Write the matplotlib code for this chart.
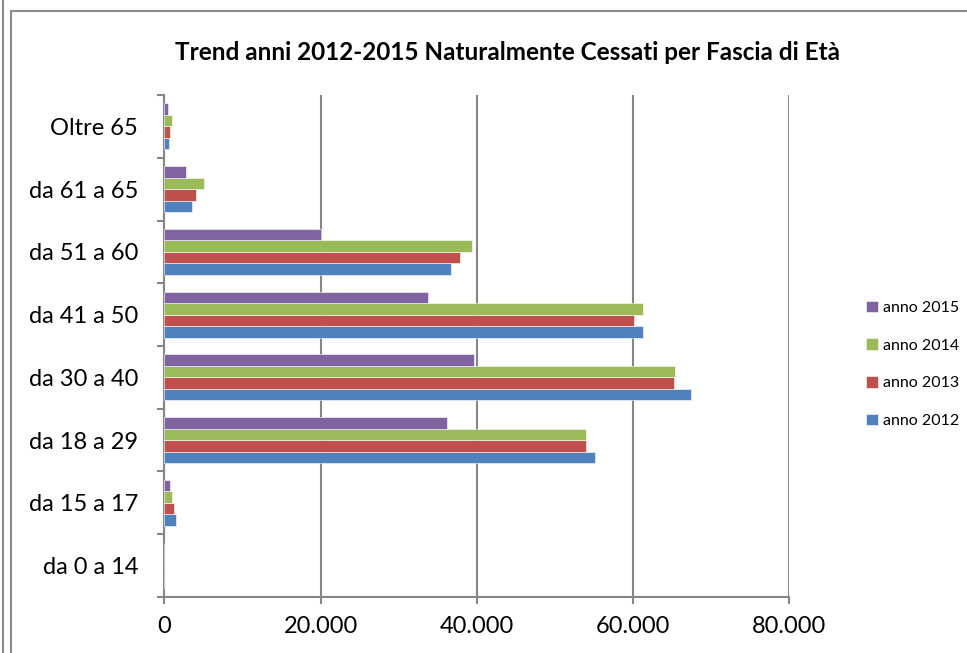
import numpy as np
import matplotlib
matplotlib.use("Agg")
import matplotlib.pyplot as plt
from matplotlib.ticker import FuncFormatter, FixedLocator
from matplotlib.lines import Line2D

# categories bottom -> top
categories = ["da 0 a 14", "da 15 a 17", "da 18 a 29", "da 30 a 40",
              "da 41 a 50", "da 51 a 60", "da 61 a 65", "Oltre 65"]
anno_2012 = [0, 1500, 55100, 67400, 61300, 36700, 3550, 600]
anno_2013 = [0, 1250, 54000, 65300, 60200, 37800, 4100, 750]
anno_2014 = [0, 950, 54000, 65400, 61300, 39400, 5100, 900]
anno_2015 = [0, 700, 36200, 39600, 33800, 20100, 2750, 500]
series_labels = ["anno 2012", "anno 2013", "anno 2014", "anno 2015"]
colors = ["#4F81BD", "#C0504D", "#9BBB59", "#8064A2"]

plt.rcParams["font.family"] = ["Lato", "DejaVu Sans"]

fig = plt.figure(figsize=(9.67, 6.53), dpi=100)
ax = fig.add_axes([0.1701, 0.0858, 0.6458, 0.7687])

# frame lines around the chart area
frame = "#8c8c8c"
fig.lines.append(Line2D([10.5 / 967, 1], [1 - 10.5 / 653, 1 - 10.5 / 653],
                        transform=fig.transFigure, color=frame, lw=1.5))
fig.lines.append(Line2D([10.5 / 967, 10.5 / 967], [0, 1 - 10.5 / 653],
                        transform=fig.transFigure, color=frame, lw=1.5))
fig.lines.append(Line2D([3 / 967, 3 / 967], [0, 1], transform=fig.transFigure,
                        color=frame, lw=1.5))

y = np.arange(len(categories))
h = 0.183
all_series = [anno_2012, anno_2013, anno_2014, anno_2015]
for i, (vals, lab, col) in enumerate(zip(all_series, series_labels, colors)):
    ax.barh(y + (i - 1.5) * h, vals, height=h, color=col, label=lab,
            edgecolor="white", linewidth=0.4, zorder=3)

ax.set_xlim(0, 80000)
ax.set_ylim(-0.5, len(categories) - 0.5)
ax.set_xticks([0, 20000, 40000, 60000, 80000])
ax.xaxis.set_major_formatter(FuncFormatter(lambda v, p: f"{int(v):,}".replace(",", ".")))
ax.grid(axis="x", color="#868686", lw=1.5, zorder=0)

# major ticks at category boundaries, labels at centers
ax.yaxis.set_major_locator(FixedLocator(np.arange(-0.5, len(categories), 1.0)))
ax.yaxis.set_major_formatter(FuncFormatter(lambda v, p: ""))
ax.yaxis.set_minor_locator(FixedLocator(y))
ax.set_yticklabels(categories, minor=True)
ax.tick_params(axis="y", which="minor", length=0, pad=19, labelsize=17)
ax.tick_params(axis="y", which="major", length=5, width=1.5, color="#868686")
ax.tick_params(axis="x", length=5, width=1.5, color="#868686", labelsize=17, pad=9)

for s in ["top", "right"]:
    ax.spines[s].set_visible(False)
for s in ["left", "bottom"]:
    ax.spines[s].set_color("#868686")
    ax.spines[s].set_linewidth(1.5)

fig.text(0.525, 0.920, "Trend anni 2012-2015 Naturalmente Cessati per Fascia di Età",
         ha="center", va="center", fontsize=17.5, fontweight="bold")

handles, labels = ax.get_legend_handles_labels()
fig.legend(handles[::-1], labels[::-1], loc="center left",
           bbox_to_anchor=(0.896, 0.442), frameon=False, fontsize=11.5,
           handlelength=0.75, handleheight=0.75, handletextpad=0.3,
           labelspacing=1.45, borderpad=0, borderaxespad=0)

fig.savefig("out.png", dpi=100)
